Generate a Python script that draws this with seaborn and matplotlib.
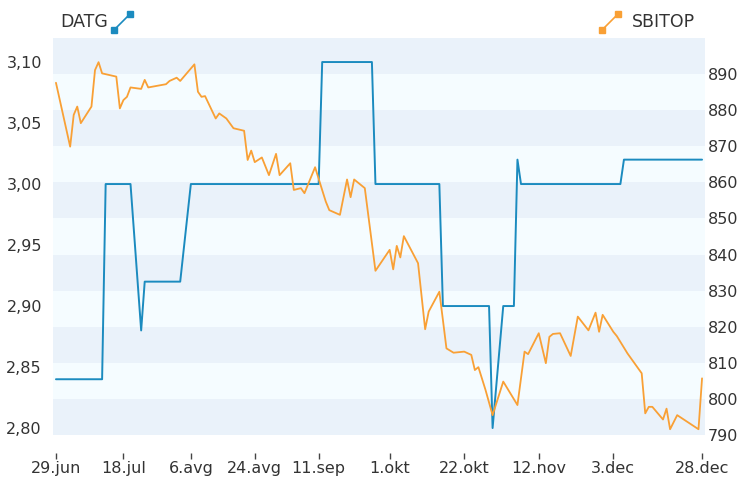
import matplotlib
matplotlib.use("Agg")
import matplotlib.pyplot as plt
from matplotlib.lines import Line2D
import seaborn as sns
import pandas as pd

# ---------------- data ----------------
datg_dates = ["2012-06-29", "2012-07-12", "2012-07-13", "2012-07-20", "2012-07-23",
              "2012-07-24", "2012-08-03", "2012-08-06", "2012-09-11", "2012-09-12",
              "2012-09-26", "2012-09-27", "2012-10-15", "2012-10-16", "2012-10-29",
              "2012-10-30", "2012-11-02", "2012-11-05", "2012-11-06", "2012-11-07",
              "2012-12-05", "2012-12-06", "2012-12-28"]
datg_values = [2.84, 2.84, 3.00, 3.00, 2.88, 2.92, 2.92, 3.00, 3.00, 3.10,
               3.10, 3.00, 3.00, 2.90, 2.90, 2.80, 2.90, 2.90, 3.02, 3.00,
               3.00, 3.02, 3.02]

sbitop_dates = ["2012-06-29", "2012-07-03", "2012-07-04", "2012-07-05", "2012-07-06",
                "2012-07-09", "2012-07-10", "2012-07-11", "2012-07-12", "2012-07-16",
                "2012-07-17", "2012-07-18", "2012-07-19", "2012-07-20", "2012-07-23",
                "2012-07-24", "2012-07-25", "2012-07-30", "2012-07-31", "2012-08-02",
                "2012-08-03", "2012-08-07", "2012-08-08", "2012-08-09", "2012-08-10",
                "2012-08-13", "2012-08-14", "2012-08-16", "2012-08-18", "2012-08-21",
                "2012-08-22", "2012-08-23", "2012-08-24", "2012-08-26", "2012-08-28",
                "2012-08-30", "2012-08-31", "2012-09-03", "2012-09-04", "2012-09-06",
                "2012-09-07", "2012-09-10", "2012-09-11", "2012-09-13", "2012-09-14",
                "2012-09-17", "2012-09-19", "2012-09-20", "2012-09-21", "2012-09-24",
                "2012-09-27", "2012-10-01", "2012-10-02", "2012-10-03", "2012-10-04",
                "2012-10-05", "2012-10-09", "2012-10-11", "2012-10-12", "2012-10-15",
                "2012-10-16", "2012-10-17", "2012-10-19", "2012-10-22", "2012-10-24",
                "2012-10-25", "2012-10-26", "2012-10-28", "2012-10-30", "2012-11-02",
                "2012-11-06", "2012-11-08", "2012-11-09", "2012-11-12", "2012-11-14",
                "2012-11-15", "2012-11-16", "2012-11-18", "2012-11-21", "2012-11-23",
                "2012-11-26", "2012-11-28", "2012-11-29", "2012-11-30", "2012-12-03",
                "2012-12-04", "2012-12-07", "2012-12-11", "2012-12-12", "2012-12-13",
                "2012-12-14", "2012-12-17", "2012-12-18", "2012-12-19", "2012-12-21",
                "2012-12-27", "2012-12-28"]
sbitop_values = [887.6, 869.9, 878.7, 881.0, 876.4,
                 881.0, 891.1, 893.3, 890.2, 889.3,
                 880.5, 882.8, 883.7, 886.3, 885.9,
                 888.4, 886.3, 887.2, 888.1, 889.0,
                 888.1, 892.7, 885.1, 883.7, 883.9,
                 877.7, 879.1, 877.7, 875.0, 874.3,
                 866.2, 868.8, 865.6, 866.9, 862.0,
                 867.9, 862.0, 865.3, 857.9, 858.4,
                 857.0, 864.2, 861.0, 854.7, 852.3,
                 851.0, 860.8, 855.9, 860.8, 858.4,
                 835.5, 841.3, 835.9, 842.4, 839.2,
                 845.1, 837.6, 819.3, 824.2, 829.7,
                 821.9, 814.0, 812.8, 813.1, 812.2,
                 808.0, 808.8, 802.5, 795.5, 804.8,
                 798.3, 813.1, 812.4, 818.2, 809.9,
                 817.2, 818.0, 818.2, 811.9, 822.8,
                 819.0, 823.9, 818.6, 823.3, 818.6,
                 817.4, 812.6, 807.1, 796.0, 797.8,
                 797.8, 794.3, 797.3, 791.6, 795.5,
                 791.6, 805.7]

tick_dates = ["2012-06-29", "2012-07-18", "2012-08-06", "2012-08-24", "2012-09-11",
              "2012-10-01", "2012-10-22", "2012-11-12", "2012-12-03", "2012-12-28"]
tick_labels = ["29.jun", "18.jul", "6.avg", "24.avg", "11.sep",
               "1.okt", "22.okt", "12.nov", "3.dec", "28.dec"]

left_ticks = [2.80, 2.85, 2.90, 2.95, 3.00, 3.05, 3.10]
right_ticks = [790, 800, 810, 820, 830, 840, 850, 860, 870, 880, 890]

# ---------------- style ----------------
sns.set_theme(style="white")
plt.rcParams["font.family"] = ["DejaVu Sans"]
FS = 11.5
FS_HEAD = 12.5

BLUE = "#1b8bbf"
ORANGE = "#f9a035"
BAND_DARK = "#eaf2fa"
BAND_LIGHT = "#f5fcff"
TEXT = "#333333"

W, H = 745, 483
fig = plt.figure(figsize=(W / 100, H / 100), dpi=100)
ax = fig.add_axes([53 / W, 1 - 435 / H, (705 - 53) / W, (435 - 38) / H])
ax2 = ax.twinx()

df_d = pd.DataFrame({"date": pd.to_datetime(datg_dates), "value": datg_values})
df_s = pd.DataFrame({"date": pd.to_datetime(sbitop_dates), "value": sbitop_values})

L0, L1 = 2.7943, 3.1197
R0, R1 = 790, 900
ax.set_ylim(L0, L1)
ax2.set_ylim(R0, R1)
x0 = pd.Timestamp(tick_dates[0]) - pd.Timedelta(hours=20)
x1 = pd.Timestamp(tick_dates[-1]) + pd.Timedelta(hours=20)


def r2l(r):
    return L0 + (r - R0) / (R1 - R0) * (L1 - L0)


edges = list(range(R0, R1 + 1, 10))
for i in range(len(edges) - 1):
    color = BAND_DARK if i % 2 == 0 else BAND_LIGHT
    ax.axhspan(r2l(edges[i]), r2l(edges[i + 1]), color=color, lw=0, zorder=0)

sns.lineplot(data=df_d, x="date", y="value", ax=ax, color=BLUE, linewidth=1.4, zorder=3)
sns.lineplot(data=df_s, x="date", y="value", ax=ax2, color=ORANGE, linewidth=1.3, zorder=3)

ax.set_xlim(x0, x1)
ax2.set_xlim(x0, x1)

for a in (ax, ax2):
    for s in a.spines.values():
        s.set_visible(False)
    a.set_xlabel("")
    a.set_ylabel("")

ax.set_yticks(left_ticks)
ax.set_yticklabels([f"{v:.2f}".replace(".", ",") for v in left_ticks])
ax.tick_params(axis="y", length=0, pad=8, labelsize=FS, labelcolor=TEXT)
ax2.set_yticks(right_ticks)
ax2.set_yticklabels([str(v) for v in right_ticks])
ax2.tick_params(axis="y", length=0, pad=2, labelsize=FS, labelcolor=TEXT)

ax.spines["bottom"].set_position(("outward", 13))
ax.set_xticks(pd.to_datetime(tick_dates))
ax.set_xticklabels(tick_labels)
ax.tick_params(axis="x", bottom=True, length=4.5, width=1.0, color="#444444",
               direction="out", pad=1.5, labelsize=FS, labelcolor=TEXT)
ax2.tick_params(axis="x", bottom=False, labelbottom=False)

fig.text(60 / W, 1 - 22 / H, "DATG", ha="left", va="center", fontsize=FS_HEAD, color=TEXT)
fig.add_artist(Line2D([114 / W, 130 / W], [1 - 30 / H, 1 - 14 / H], transform=fig.transFigure,
                      color=BLUE, lw=1.2, marker="s", markersize=4))
fig.text(695 / W, 1 - 22 / H, "SBITOP", ha="right", va="center", fontsize=FS_HEAD, color=TEXT)
fig.add_artist(Line2D([602 / W, 618 / W], [1 - 30 / H, 1 - 14 / H], transform=fig.transFigure,
                      color=ORANGE, lw=1.2, marker="s", markersize=4))

fig.savefig("out.png", dpi=100)
